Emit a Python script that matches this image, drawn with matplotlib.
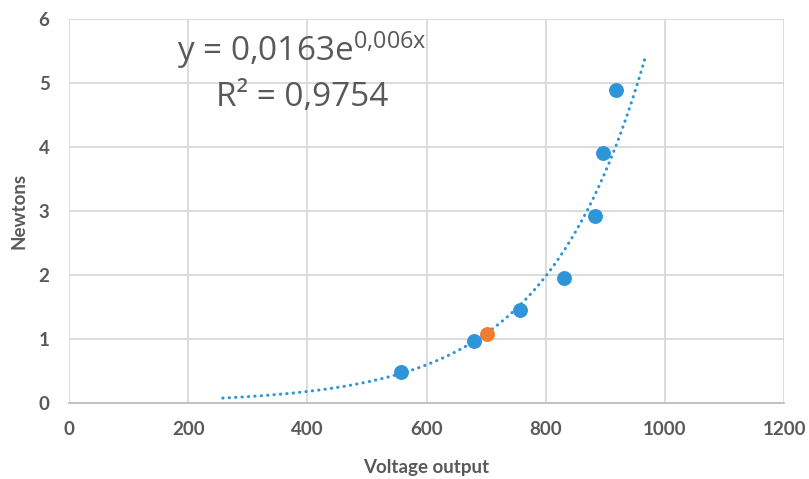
import matplotlib.pyplot as plt
import numpy as np

# measured points (voltage output, newtons)
voltage = [557, 680, 757, 830, 883, 897, 918]
newtons = [0.49, 0.97, 1.45, 1.96, 2.92, 3.91, 4.89]
# highlighted point
voltage_hl = [701]
newtons_hl = [1.08]

# exponential trendline y = a * e^(b x), coefficients from the chart label
coef_a = 0.0163
coef_b = 0.006
trend_range = [258, 968]

plt.rcParams['mathtext.fontset'] = 'custom'
plt.rcParams['mathtext.rm'] = 'Open Sans'
plt.rcParams['mathtext.it'] = 'Open Sans'

fig = plt.figure(figsize=(8.09, 4.79), dpi=100)
ax = fig.add_axes([0.0853, 0.1587, 0.8838, 0.8016])

tx = np.linspace(trend_range[0], trend_range[1], 300)
ax.plot(tx, coef_a * np.exp(coef_b * tx), color='#2e96d8', linewidth=2.2,
        linestyle=(0, (0.1, 2.0)), dash_capstyle='round', zorder=3)

ax.scatter(voltage, newtons, s=115, color='#2e96d8', zorder=4, linewidths=0)
ax.scatter(voltage_hl, newtons_hl, s=115, color='#ed7d31', zorder=4, linewidths=0)

ax.set_xlim(0, 1200)
ax.set_ylim(0, 6)
ax.set_xticks(range(0, 1201, 200))
ax.set_yticks(range(0, 7))
ax.grid(True, color='#d9d9d9', linewidth=1.3)
ax.set_axisbelow(True)
for side in ['top', 'right', 'left']:
    ax.spines[side].set_visible(False)
ax.spines['bottom'].set_color('#bdbdbd')
ax.spines['bottom'].set_linewidth(1.3)
ax.tick_params(length=0, labelsize=13.5, labelcolor='#595959')
for lab in ax.get_xticklabels() + ax.get_yticklabels():
    lab.set_fontfamily('Lato')
    lab.set_fontweight('bold')
ax.tick_params(axis='y', pad=14)
ax.tick_params(axis='x', pad=13)

ax.set_xlabel('Voltage output', fontsize=13.5, fontweight='bold', color='#595959',
              family='Lato', labelpad=15)
ax.set_ylabel('Newtons', fontsize=13.5, fontweight='bold', color='#595959',
              family='Lato', labelpad=8)

ax.text(390, 5.52, r'y = 0,0163e$^{\mathrm{0{,}006x}}$', fontsize=24, color='#595959',
        family='Open Sans', ha='center', va='center')
ax.text(391, 4.78, 'R² = 0,9754', fontsize=24, color='#595959',
        family='Open Sans', ha='center', va='center')

fig.savefig('out.png', dpi=100)
